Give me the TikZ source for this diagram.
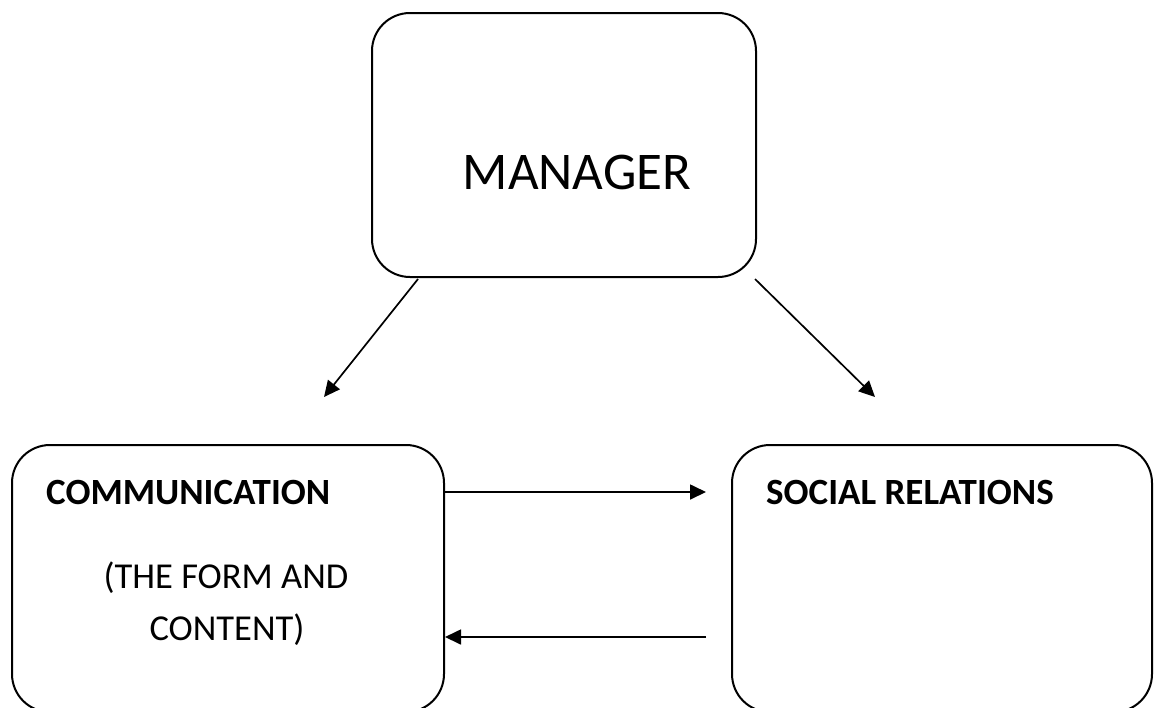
\documentclass[tikz,border=0pt]{standalone}
\usepackage{fontspec}
\setmainfont{Carlito}
\usetikzlibrary{arrows.meta}
\tikzset{
  box/.style={draw=black, line width=2pt, rounded corners=38pt, inner sep=0pt},
  arr/.style={draw=black, line width=1.7pt, -{Triangle[length=16pt,width=15pt]}},
  txt/.style={inner sep=0pt, text=black}
}
\begin{document}
\begin{tikzpicture}[x=1pt,y=-1pt]
\useasboundingbox (0,0) rectangle (1155,707);
% boxes
\node[box, minimum width=384pt, minimum height=264pt] (mgr) at (564,145) {};
\node[box, minimum width=432pt, minimum height=267pt] (comm) at (228,578.5) {};
\node[box, minimum width=420pt, minimum height=267pt] (soc) at (942,578.5) {};
% texts
\node[txt, anchor=base, font=\fontsize{53}{60}\selectfont] (mgrtxt) at (577,189) {MANAGER};
\node[txt, anchor=base west, font=\fontsize{37}{44}\selectfont\bfseries] (commtxt) at (46,504) {COMMUNICATION};
\node[txt, anchor=base, font=\fontsize{36.5}{44}\selectfont] (form1) at (226,588) {(THE FORM AND};
\node[txt, anchor=base, font=\fontsize{36.5}{44}\selectfont] (form2) at (227,640) {CONTENT)};
\node[txt, anchor=base west, font=\fontsize{37}{44}\selectfont\bfseries] (soctxt) at (766,504) {SOCIAL RELATIONS};
% arrow ends
\coordinate (t1) at (324,397);
\coordinate (t2) at (875,397);
% connectors
\draw[arr] ([xshift=-146pt,yshift=-1pt]mgr.south) -- (t1);
\draw[arr] ([xshift=191pt,yshift=-1pt]mgr.south) -- (t2);
\draw[arr] ([yshift=-48pt]comm.north east) -- ([xshift=-25pt,yshift=-48pt]soc.north west);
\draw[arr] ([xshift=-25pt,yshift=-193pt]soc.north west) -- ([yshift=-193pt]comm.north east);
\end{tikzpicture}
\end{document}
